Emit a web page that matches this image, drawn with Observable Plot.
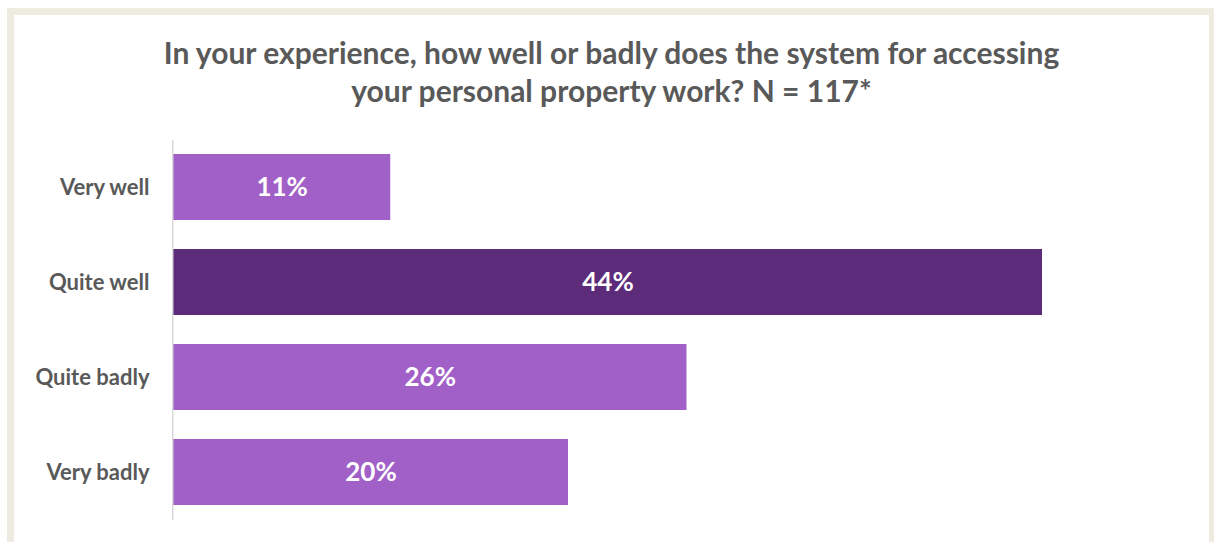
<!DOCTYPE html>
<html>
<head>
<meta charset="utf-8">
<script src="https://cdn.jsdelivr.net/npm/d3@7"></script>
<script src="https://cdn.jsdelivr.net/npm/@observablehq/plot@0.6"></script>
<style>
  html, body { margin: 0; padding: 0; background: #fff; overflow: hidden; }
  body { width: 1214px; height: 542px; position: relative; font-family: Lato, "Open Sans", sans-serif; }
  #frame { position: absolute; left: 7px; top: 8px; width: 1195px; height: 600px; border: 7px solid #EEEBE1; box-sizing: content-box; }
  #title { position: absolute; left: 14px; top: 0; width: 1195px; height: 130px; text-align: center;
           font-weight: 700; font-size: 30px; line-height: 38px; color: #595959; padding-top: 33px; box-sizing: border-box; }
  #chart { position: absolute; left: 0; top: 130px; }
</style>
</head>
<body>
<div id="frame"></div>
<div id="title">In your experience, how well or badly does the system for accessing<br>your personal property work? N = 117*</div>
<div id="chart"></div>
<script>
const categories = ["Very well", "Quite well", "Quite badly", "Very badly"];
const values = [11, 44, 26, 20];
const highlight = ["Quite well"];

const data = categories.map((c, i) => ({category: c, value: values[i]}));

const chart = Plot.plot({
  width: 1214,
  height: 412,
  marginTop: 10,
  marginBottom: 22,
  marginLeft: 173,
  marginRight: 53.5,
  style: {fontFamily: "Lato, 'Open Sans', sans-serif", background: "transparent"},
  x: {domain: [0, 50], axis: null},
  y: {domain: categories, paddingInner: 0.305, paddingOuter: 0.1525, label: null, tickSize: 0, tickPadding: 24},
  marks: [
    Plot.barX(data, {x: "value", y: "category", fill: d => highlight.includes(d.category) ? "#5C2B7A" : "#A160C7"}),
    Plot.ruleX([0], {stroke: "#D9D9D9", strokeWidth: 1.5, dx: -0.75}),
    Plot.text(data, {x: d => d.value / 2, y: "category", text: d => d.value + "%", fill: "white", fontSize: 26, fontWeight: 700}),
    Plot.axisY({tickSize: 0, tickPadding: 24, fontSize: 22, fontWeight: 700, fill: "#595959", label: null})
  ]
});
document.getElementById("chart").appendChild(chart);
chart.querySelectorAll("[aria-label='y-axis tick label'] text").forEach(t => { t.setAttribute("font-weight", "700"); t.setAttribute("fill", "#595959"); });
</script>
</body>
</html>
